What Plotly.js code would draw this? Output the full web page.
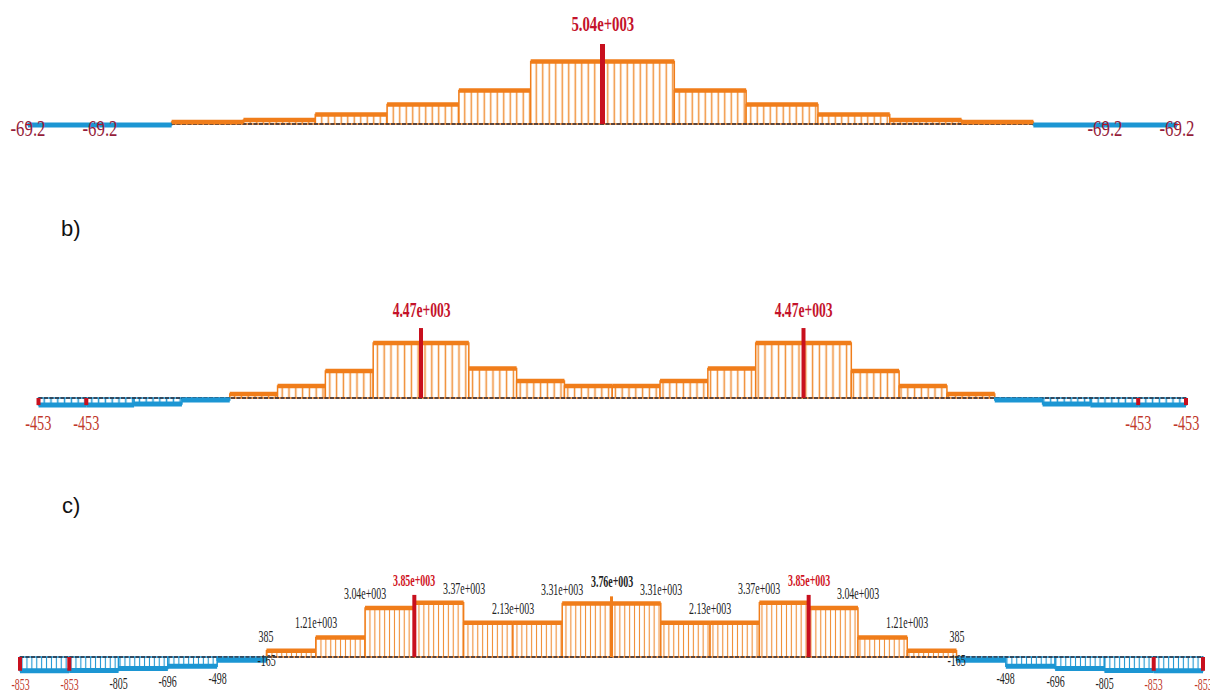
<!DOCTYPE html>
<html><head><meta charset="utf-8">
<script src="https://cdn.plot.ly/plotly-3.0.1.min.js"></script>
<style>html,body{margin:0;padding:0;background:#fff;}#chart{width:1210px;height:691px;}</style>
</head><body><div id="chart"></div>
<script>
// ---------------- data ----------------
// panel a: 16 equal segments (step values along the member)
var aSegValues = [-69.2, -69.2, 130, 250, 600, 1230, 2110, 3940, 3940, 2110, 1230, 600, 250, 130, -69.2, -69.2];
var aLabelNodes = [0, 1, 8, 15, 16];
var aLabelValues = [-69.2, -69.2, 5040, -69.2, -69.2];

// panel b: 24 equal segments
var bSegValues = [-453, -453, -380, -130, 250, 770, 1725, 3510, 3510, 1890, 1090, 770, 770, 1090, 1890, 3510, 3510, 1725, 770, 250, -130, -380, -453, -453];
var bLabelNodes = [0, 1, 8, 16, 23, 24];
var bLabelValues = [-453, -453, 4470, 4470, -453, -453];

// panel c: 24 equal segments, every node labelled
var cSegValues = [-853, -830, -720, -580, -200, 385, 1210, 3040, 3370, 2130, 2130, 3310, 3310, 2130, 2130, 3370, 3040, 1210, 385, -200, -580, -720, -830, -853];
var cLabelNodes = [0, 1, 2, 3, 4, 5, 6, 7, 8, 9, 10, 11, 12, 13, 14, 15, 16, 17, 18, 19, 20, 21, 22, 23, 24];
var cLabelValues = [-853, -853, -805, -696, -498, 385, 1210, 3040, 3850, 3370, 2130, 3310, 3760, 3310, 2130, 3370, 3850, 3040, 1210, 385, -498, -696, -805, -853, -853];
var cJumpNodes = [5, 19];
var cJumpValues = [-165, -165];
var cCenterNodes = [12];
var cCenterValues = [3760];

var panelTags = ['b)', 'c)'];

// ---------------- styling / layout ----------------
var W = 1210, H = 691;
var ORANGE = '#f07d1a', ORANGE_H = '#f08c32', BLUE = '#1c96d3', RED = '#c8101e', BASE = '#2a2a38';
var SERIF = 'Liberation Serif, Times New Roman, serif';

function fmt(v) {
  if (Math.abs(v) >= 1000) return (v / 1000).toFixed(2) + 'e+003';
  return String(v);
}

var panels = [
  {seg: aSegValues, ln: aLabelNodes, lv: aLabelValues, p0: 28, p1: 1177, base: 124, k: 63, hatch: 6.5, mark: 5, squeeze: 0.7,
   minF: {size: 24, color: '#951c3a'}, minAnchor: 'middle', minShift: -3,
   maxF: {size: 21, color: '#c4122a', weight: 'bold'}, maxShift: 6},
  {seg: bSegValues, ln: bLabelNodes, lv: bLabelValues, p0: 38.5, p1: 1186, base: 398, k: 63.9, hatch: 6.8, mark: 4, squeeze: 0.68,
   minF: {size: 21, color: '#c0392b'}, minAnchor: 'top', minShift: -4,
   maxF: {size: 20, color: '#c4122a', weight: 'bold'}, maxShift: 5},
  {seg: cSegValues, ln: cLabelNodes, lv: cLabelValues, p0: 20, p1: 1203, base: 657, k: 62, hatch: 4.9, mark: 4, squeeze: 0.62,
   minF: {size: 16, color: '#c0392b'}, minAnchor: 'top', minShift: -3,
   maxF: {size: 16, color: '#d0141e', weight: 'bold'}, maxShift: 4,
   otherF: {size: 16, color: '#222'}}
];

var traces = [], annotations = [], squeezes = [], layout = {
  width: W, height: H, margin: {l: 0, r: 0, t: 0, b: 0},
  paper_bgcolor: '#fff', plot_bgcolor: 'rgba(0,0,0,0)', showlegend: false, barmode: 'overlay',
  annotations: annotations
};

panels.forEach(function (P, i) {
  var sfx = i === 0 ? '' : String(i + 1);
  var xa = 'x' + sfx, ya = 'y' + sfx;
  var N = P.seg.length;
  var s = (P.p1 - P.p0) / N;
  layout['xaxis' + sfx] = {domain: [0, 1], range: [-P.p0 / s, (W - P.p0) / s], visible: false, anchor: ya, fixedrange: true};
  layout['yaxis' + sfx] = {domain: [0, 1], range: [-(H - P.base) * P.k, P.base * P.k], visible: false, anchor: xa, fixedrange: true};

  var centers = P.seg.map(function (v, j) { return j + 0.5; });
  // hatched bars
  [[function (v) { return v > 0; }, ORANGE, ORANGE_H], [function (v) { return v < 0; }, BLUE, BLUE]].forEach(function (d) {
    traces.push({
      type: 'bar', xaxis: xa, yaxis: ya, x: centers,
      y: P.seg.map(function (v) { return d[0](v) ? v : null; }),
      width: 1, base: 0,
      marker: {color: '#fff', line: {color: d[1], width: 1.5},
               pattern: {shape: '|', fgcolor: d[2], bgcolor: '#fff', size: P.hatch, solidity: 0.22, fillmode: 'replace'}},
      hoverinfo: 'skip'
    });
  });
  // baseline
  traces.push({type: 'scatter', mode: 'lines', xaxis: xa, yaxis: ya, x: [0, N], y: [0, 0],
    line: {color: BASE, width: 1.6, dash: '4px,1.5px'}, hoverinfo: 'skip'});
  // thick step tops / bottoms
  [[function (v) { return v > 0; }, ORANGE, 4.5], [function (v) { return v < 0; }, BLUE, 5]].forEach(function (d) {
    var xs = [], ys = [];
    P.seg.forEach(function (v, j) { if (d[0](v)) { xs.push(j, j + 1, null); ys.push(v, v, null); } });
    traces.push({type: 'scatter', mode: 'lines', xaxis: xa, yaxis: ya, x: xs, y: ys,
      line: {color: d[1], width: d[2]}, hoverinfo: 'skip'});
  });
  // extreme markers
  var mx = Math.max.apply(null, P.lv), mn = Math.min.apply(null, P.lv);
  var rx = [], ry = [];
  P.ln.forEach(function (n, j) {
    var v = P.lv[j];
    if (v === mx || v === mn) { rx.push(n, n, null); ry.push(0, v, null); }
  });
  traces.push({type: 'scatter', mode: 'lines', xaxis: xa, yaxis: ya, x: rx, y: ry,
    line: {color: RED, width: P.mark}, hoverinfo: 'skip'});

  // labels
  P.ln.forEach(function (n, j) {
    var v = P.lv[j], f, anchor, shift;
    var isCenter = (i === 2 && cCenterNodes.indexOf(n) >= 0);
    if (v === mx) { f = P.maxF; anchor = 'bottom'; shift = P.maxShift; }
    else if (v === mn) { f = P.minF; anchor = P.minAnchor; shift = P.minShift; }
    else if (isCenter) { f = {size: 16, color: '#222', weight: 'bold'}; anchor = 'bottom'; shift = P.maxShift; }
    else { f = P.otherF; anchor = v > 0 ? 'bottom' : 'top'; shift = v > 0 ? P.maxShift : P.minShift; }
    annotations.push({xref: xa, yref: ya, x: n, y: v, text: fmt(v), showarrow: false,
      xanchor: 'center', yanchor: anchor, yshift: shift,
      font: {family: SERIF, size: f.size, color: f.color, weight: f.weight || 'normal'}});
    squeezes.push(P.squeeze);
  });
});

// panel c: centre marker and jump labels
traces.push({type: 'scatter', mode: 'lines', xaxis: 'x3', yaxis: 'y3',
  x: cCenterNodes.reduce(function (a, n) { return a.concat([n, n, null]); }, []),
  y: cCenterValues.reduce(function (a, v) { return a.concat([0, v, null]); }, []),
  line: {color: ORANGE, width: 3}, hoverinfo: 'skip'});
cJumpNodes.forEach(function (n, j) {
  annotations.push({xref: 'x3', yref: 'y3', x: n, y: cJumpValues[j], text: fmt(cJumpValues[j]), showarrow: false,
    xanchor: 'center', yanchor: 'middle', yshift: -1,
    font: {family: SERIF, size: 16, color: '#222'}});
  squeezes.push(panels[2].squeeze);
});

// panel tags
[[71, 229], [71, 505]].forEach(function (p, j) {
  annotations.push({xref: 'paper', yref: 'paper', x: p[0] / W, y: 1 - p[1] / H, text: panelTags[j], showarrow: false,
    xanchor: 'center', yanchor: 'middle', font: {family: 'Liberation Sans, Arial, sans-serif', size: 22, color: '#111'}});
  squeezes.push(1);
});

var gd = document.getElementById('chart');
Plotly.newPlot(gd, traces, layout, {staticPlot: true, displayModeBar: false}).then(function () {
  gd.querySelectorAll('g.annotation').forEach(function (g) {
    var idx = +g.getAttribute('data-index');
    var sq = squeezes[idx];
    if (!sq || sq === 1) return;
    var t = g.querySelector('.annotation-text');
    if (!t) return;
    var w = t.getComputedTextLength();
    t.setAttribute('textLength', (w * sq).toFixed(1));
    t.setAttribute('lengthAdjust', 'spacingAndGlyphs');
  });
});
</script>
</body></html>
